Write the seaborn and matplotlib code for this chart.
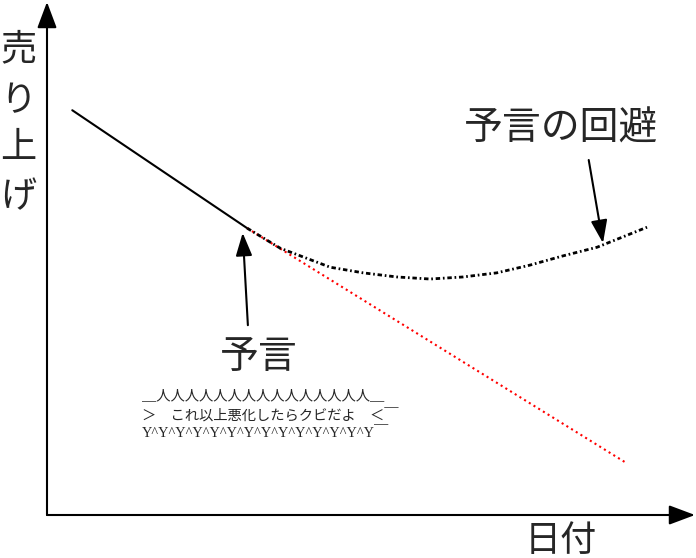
"""
予言と売り上げ
"""

import matplotlib.pyplot as plt
import seaborn as sns
import pandas as pd

# 実績 (実線)
past_x = [3.9, 30.9]
past_y = [78.9, 55.9]

# 予言 (赤点線)
prophecy_x = [30.9, 89.2]
prophecy_y = [55.9, 10.3]

# 予言の回避 (一点鎖線)
avoid_x = [30.9, 36.0, 43.7, 48.8, 54.0, 59.1, 64.2, 69.4, 74.5, 79.6, 84.9, 92.6]
avoid_y = [55.9, 52.0, 48.3, 47.2, 46.4, 46.0, 46.4, 47.2, 48.7, 50.5, 52.2, 56.1]

ylabel_chars = ['売', 'り', '上', 'げ']
xlabel = '日付'
label_prophecy = '予言'
label_avoid = '予言の回避'
aa_lines = ['＿人人人人人人人人人人人人人人人＿',
            '＞　これ以上悪化したらクビだよ　＜￣',
            'Y^Y^Y^Y^Y^Y^Y^Y^Y^Y^Y^Y^Y^Y￣']

sns.set_style('white')
plt.rcParams['font.family'] = ['Noto Sans CJK JP', 'DejaVu Sans']

fig = plt.figure(figsize=(6.96, 5.58), dpi=100)
ax = fig.add_axes([47 / 696, 43 / 558, 648 / 696, 513 / 558])

past = pd.DataFrame({'x': past_x, 'y': past_y})
prophecy = pd.DataFrame({'x': prophecy_x, 'y': prophecy_y})
avoid = pd.DataFrame({'x': avoid_x, 'y': avoid_y})

sns.lineplot(data=past, x='x', y='y', sort=False, color='black', lw=1.5, ax=ax)
sns.lineplot(data=prophecy, x='x', y='y', sort=False, color='red', lw=1.5,
             linestyle=':', ax=ax)
sns.lineplot(data=avoid, x='x', y='y', sort=False, color='black', lw=2,
             linestyle=(0, (1.6, 1, 0.6, 1)), ax=ax)

ax.set_xlim(0, 100)
ax.set_ylim(0, 100)
ax.set_xticks([])
ax.set_yticks([])
ax.set_xlabel('')
ax.set_ylabel('')
for s in ax.spines.values():
    s.set_visible(False)

# 軸の矢印
axis_arrow = dict(arrowstyle='-|>,head_length=0.8,head_width=0.3',
                  mutation_scale=20, lw=1.5, color='black',
                  shrinkA=0, shrinkB=0)
ax.annotate('', xy=(1, 0), xytext=(0, 0), xycoords='axes fraction',
            arrowprops=axis_arrow, annotation_clip=False)
ax.annotate('', xy=(0, 1), xytext=(0, 0), xycoords='axes fraction',
            arrowprops=axis_arrow, annotation_clip=False)

# 注釈
note_arrow = dict(arrowstyle='-|>,head_length=0.7,head_width=0.25',
                  mutation_scale=20, lw=1.5, color='black',
                  shrinkA=0, shrinkB=0)
ax.annotate('', xy=(30.2, 55.0), xytext=(31.0, 37.0), arrowprops=note_arrow)
ax.text(32.7, 30.8, label_prophecy, fontsize=28, ha='center', va='center')
ax.annotate('', xy=(85.8, 53.0), xytext=(83.6, 69.2), arrowprops=note_arrow)
ax.text(79.3, 75.4, label_avoid, fontsize=28, ha='center', va='center')

aa_font = ['Liberation Serif', 'Noto Sans CJK JP']
for line, yy in zip(aa_lines, [23.2, 19.3, 15.8]):
    ax.text(14.7, yy, line, fontsize=10.3, ha='left', va='center',
            family=aa_font)

# 軸ラベル
for ch, py in zip(ylabel_chars, [49, 101, 148, 197]):
    fig.text(18 / 696, 1 - py / 558, ch, fontsize=26, ha='center', va='center')
fig.text(561 / 696, 1 - 541 / 558, xlabel, fontsize=26, ha='center', va='center')

plt.savefig('out.png', dpi=100)
